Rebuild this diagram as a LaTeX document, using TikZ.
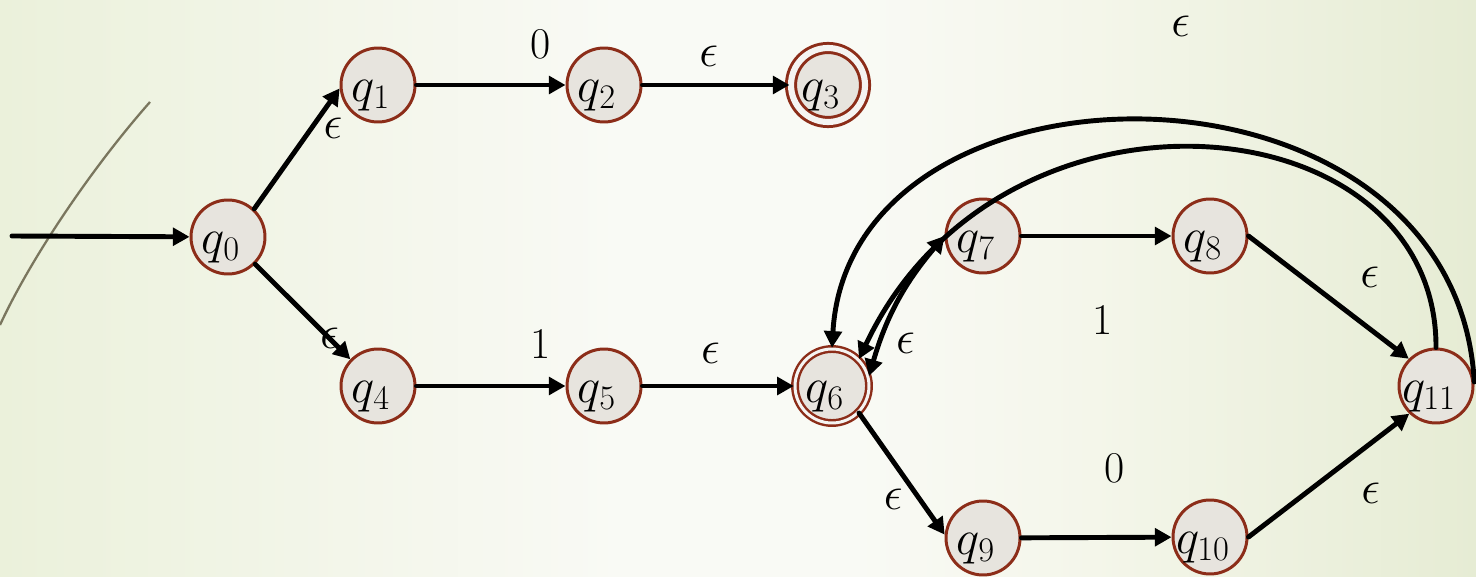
\RequirePackage{fix-cm}
\documentclass[tikz,border=0pt]{standalone}
\usetikzlibrary{arrows.meta,positioning}
\definecolor{statered}{RGB}{140,45,25}
\definecolor{statefill}{RGB}{231,228,222}
\definecolor{bgleft}{RGB}{235,241,219}
\definecolor{bgleftmid}{RGB}{242,245,232}
\definecolor{bgmid}{RGB}{249,250,245}
\definecolor{bgrightmid}{RGB}{244,246,234}
\definecolor{bgright}{RGB}{230,236,212}
\definecolor{olivestroke}{RGB}{122,118,94}
\pgfdeclarehorizontalshading{slidebg}{100bp}{color(0bp)=(bgleft); color(25bp)=(bgleft);
  color(35bp)=(bgleftmid); color(46bp)=(bgmid); color(54bp)=(bgmid);
  color(62bp)=(bgrightmid); color(75bp)=(bgright); color(100bp)=(bgright)}
\tikzset{
  nfastate/.style={circle, draw=statered, line width=1.7pt, fill=statefill,
    minimum size=1.48cm, inner sep=0pt},
  finalstate/.style={double=statefill!40!white, double distance=3.5pt, line width=1.7pt},
  qname/.style={font=\fontsize{28}{32}\selectfont, xshift=-4pt, yshift=-6pt},
  trans/.style={->, line width=2.8pt, line cap=round},
  twoway/.style={<->, line width=2.8pt, line cap=round},
  eps/.style={font=\fontsize{27}{31}\selectfont, inner sep=2pt},
  sym/.style={font=\fontsize{25}{29}\selectfont, inner sep=2pt},
  >={Triangle[length=9.5pt,width=10pt]}
}
\begin{document}
\begin{tikzpicture}[x=0.02cm, y=-0.02cm]
\useasboundingbox (0,0) rectangle (1476,577);
\shade[shading=slidebg] (0,0) rectangle (1476,577);
% slide decoration
\draw[olivestroke, line width=1.3pt] (150,102) .. controls (90,170) and (30,260) .. (0,325);

% states
\node[nfastate, label={[qname]center:$q_0$}] (q0) at (228,237) {};
\node[nfastate, label={[qname]center:$q_1$}] (q1) at (378,85) {};
\node[nfastate, label={[qname]center:$q_2$}] (q2) at (604,85) {};
\node[nfastate, finalstate, label={[qname]center:$q_3$}] (q3) at (828,85) {};
\node[nfastate, label={[qname]center:$q_4$}] (q4) at (378,386) {};
\node[nfastate, label={[qname]center:$q_5$}] (q5) at (604,386) {};
\node[nfastate, finalstate, line width=1.4pt, double distance=1.7pt,
  label={[qname]center:$q_6$}] (q6) at (832,386) {};
\node[nfastate, label={[qname]center:$q_7$}] (q7) at (983,236) {};
\node[nfastate, label={[qname]center:$q_8$}] (q8) at (1210,236) {};
\node[nfastate, label={[qname]center:$q_9$}] (q9) at (983,538) {};
\node[nfastate, label={[qname]center:$q_{10}$}] (q10) at (1210,537) {};
\node[nfastate, label={[qname]center:$q_{11}$}] (q11) at (1436,386) {};

% transitions
\coordinate (start) at (12,236);
\draw[trans] (start) -- (q0);
\draw[trans] (q0.47) -- node[eps, pos=0.67, right=3.5pt] {$\epsilon$} (q1.185);
\draw[trans] (q0.-45) -- node[eps, pos=0.78] {$\epsilon$} (q4.136);
\draw[trans] (q1) -- node[sym, pos=0.83, above=11pt] {0} (q2);
\draw[trans] (q2) -- node[eps, pos=0.45, above=7pt] {$\epsilon$} (q3);
\draw[trans] (q4) -- node[sym, pos=0.83, above=12.5pt] {1} (q5);
\draw[trans] (q5) -- node[eps, pos=0.45, above=9.5pt] {$\epsilon$} (q6);
\draw[twoway] (q6.15) to[bend left=12] node[eps, pos=0.2, right=6pt] {$\epsilon$} (q7.west);
\draw[trans] (q6.-45) -- node[eps, pos=0.58, below left] {$\epsilon$} (q9.175);
\draw[trans] (q7) -- node[sym, pos=0.54, below=36pt] {1} (q8);
\draw[trans] (q9) -- node[sym, pos=0.62, above=27.5pt] {0} (q10);
\draw[trans] (q8.east) -- node[eps, pos=0.6, above right, xshift=5.5pt, yshift=9pt] {$\epsilon$} (q11.135);
\draw[trans] (q10.east) -- node[eps, pos=0.61, below right, xshift=5pt, yshift=-8.5pt] {$\epsilon$} (q11.226);

% back arcs
\draw[trans] (q11.6) .. controls (1455,40) and (850,40) .. node[eps, pos=0.47, above=45.5pt] {$\epsilon$} (q6.north);
\draw[trans] (q11.north) .. controls (1437,100) and (1000,60) .. (q6.45);
\end{tikzpicture}
\end{document}
